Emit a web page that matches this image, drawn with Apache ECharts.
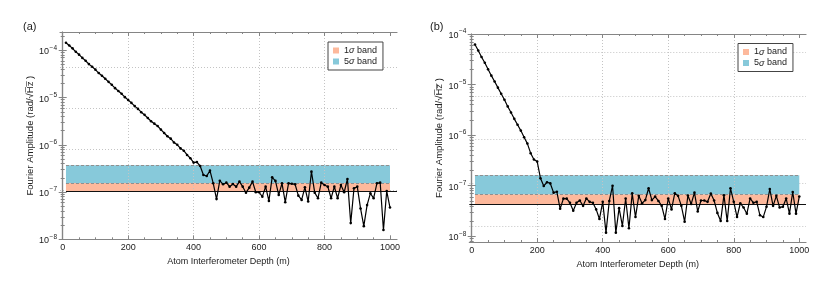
<!DOCTYPE html>
<html><head><meta charset="utf-8">
<script src="https://cdn.jsdelivr.net/npm/echarts@6/dist/echarts.min.js"></script>
<style>html,body{margin:0;padding:0;background:#fff}#c{width:831px;height:288px}</style>
</head><body><div id="c"></div>
<script>
// ---------------- data ----------------
const depth = [10,20,30,40,50,60,70,80,90,100,110,120,130,140,150,160,170,180,190,200,
  210,220,230,240,250,260,270,280,290,300,310,320,330,340,350,360,370,380,390,400,
  410,420,430,440,450,460,470,480,490,500,510,520,530,540,550,560,570,580,590,600,
  610,620,630,640,650,660,670,680,690,700,710,720,730,740,750,760,770,780,790,800,
  810,820,830,840,850,860,870,880,890,900,910,920,930,940,950,960,970,980,990,1000];
const ampA = [1.45e-4,1.26e-4,1.10e-4,9.3e-5,8.1e-5,6.9e-5,6.0e-5,5.1e-5,4.5e-5,3.9e-5,
  3.3e-5,2.9e-5,2.5e-5,2.15e-5,1.86e-5,1.58e-5,1.38e-5,1.20e-5,1.02e-5,8.9e-6,
  7.7e-6,6.6e-6,5.75e-6,4.9e-6,4.3e-6,3.7e-6,3.15e-6,2.8e-6,2.5e-6,2.1e-6,
  1.78e-6,1.52e-6,1.35e-6,1.12e-6,1.0e-6,8.4e-7,7.5e-7,6.1e-7,5.2e-7,4.2e-7,
  4.3e-7,3.56e-7,2.30e-7,2.19e-7,2.84e-7,1.53e-7,7.1e-8,1.74e-7,1.46e-7,1.58e-7,
  1.30e-7,1.48e-7,1.30e-7,1.66e-7,1.30e-7,9.7e-8,1.24e-7,1.66e-7,9.9e-8,9.9e-8,
  8.0e-8,1.30e-7,6.5e-8,2.05e-7,1.72e-7,8.7e-8,1.53e-7,6.1e-8,1.53e-7,1.50e-7,
  1.46e-7,8.4e-8,6.8e-8,1.26e-7,6.3e-8,2.70e-7,9.7e-8,7.4e-8,1.58e-7,1.41e-7,
  1.30e-7,7.4e-8,1.30e-7,7.4e-8,1.41e-7,9.9e-8,1.89e-7,2.2e-8,1.20e-7,1.30e-7,
  4.5e-8,1.9e-8,5.3e-8,9.4e-8,7.4e-8,1.53e-7,1.58e-7,1.57e-8,1.05e-7,4.7e-8];
const ampB = [6.2e-5,4.7e-5,3.5e-5,2.7e-5,2.0e-5,1.5e-5,1.15e-5,8.7e-6,6.6e-6,5.0e-6,
  3.7e-6,2.8e-6,2.1e-6,1.6e-6,1.23e-6,9.1e-7,6.8e-7,4.4e-7,3.3e-7,3.0e-7,
  1.40e-7,9.9e-8,1.17e-7,1.11e-7,7.3e-8,7.6e-8,3.5e-8,5.55e-8,5.55e-8,4.6e-8,
  3.2e-8,4.6e-8,5.1e-8,4.0e-8,5.6e-8,4.8e-8,4.6e-8,3.4e-8,2.2e-8,4.8e-8,
  1.18e-8,5.0e-8,1.0e-7,1.18e-8,3.6e-8,1.6e-8,5.6e-8,1.44e-8,7.1e-8,2.4e-8,
  6.3e-8,4.5e-8,5.2e-8,8.9e-8,5.2e-8,6.1e-8,5.0e-8,4.0e-8,2.2e-8,5.6e-8,
  3.4e-8,7.1e-8,6.3e-8,4.0e-8,1.94e-8,6.4e-8,4.35e-8,7.3e-8,3.1e-8,5.1e-8,
  5.1e-8,4.8e-8,7.0e-8,5.1e-8,2.9e-8,2.0e-8,6.5e-8,2.0e-8,8.9e-8,4.8e-8,
  2.4e-8,4.5e-8,3.7e-8,2.8e-8,5.6e-8,4.6e-8,4.8e-8,2.6e-8,2.4e-8,3.85e-8,
  8.6e-8,4.0e-8,6.3e-8,3.7e-8,3.85e-8,5.6e-8,2.8e-8,7.5e-8,2.8e-8,6.1e-8];
// band levels: [threshold, 1σ top, 5σ top]
const bandA = [1.05e-7, 1.56e-7, 3.68e-7];
const bandB = [4.35e-8, 6.76e-8, 1.61e-7];
const bandNames = ['1σ band', '5σ band'];
const xTicks = [0, 200, 400, 600, 800, 1000];
const yTicks = [1e-8, 1e-7, 1e-6, 1e-5, 1e-4];
const panelLabels = ['(a)', '(b)'];
const xTitle = 'Atom Interferometer Depth (m)';
const yTitle = 'Fourier Amplitude (rad/\u221AH\u0305z\u0305 )';

// ---------------- style / layout ----------------
const FONT = 'Liberation Sans, Arial, Helvetica, sans-serif';
const FRAME = '#858585';
const GRIDC = '#c4c4c4';
const TXT = '#222';
const C1 = '#fdb99c';
const C5 = '#87c9da';

const panels = [
  {left:60, top:32, width:337, height:207.3, xMin:-8.25, xMax:1021.4, yMin:1e-8, yMax:2.44e-4,
   gTop:67.3, gH:123, gN:3, amp:ampA, band:bandA, thrStart:10,
   legend:{left:328, top:42}, label:{left:23, top:21}, nameGapX:12, nameGapY:25},
  {left:469.3, top:34, width:336.7, height:208, xMin:-7.3, xMax:1020.5, yMin:7.71e-9, yMax:1e-4,
   gTop:52.3, gH:174, gN:4, amp:ampB, band:bandB, thrStart:-7.3,
   legend:{left:738, top:43.5}, label:{left:430, top:21}, nameGapX:12, nameGapY:25}
];

const xMinor = [];
for (let v = 50; v < 1000; v += 50) if (v % 200 !== 0) xMinor.push(v);
function yMinorFor(lo, hi) {
  const out = [];
  for (let e = -9; e <= -4; e++) for (let m = 2; m <= 9; m++) {
    const v = m * Math.pow(10, e);
    if (v >= lo && v <= hi) out.push(v);
  }
  return out;
}
function supLabel(v) {
  const e = Math.round(Math.log10(v));
  return '{b|10}{s|' + (e < 0 ? '\u2212' : '') + Math.abs(e) + '}';
}
const supRich = {
  b: {fontSize: 9, fontFamily: FONT, color: TXT, lineHeight: 12, verticalAlign: 'bottom'},
  s: {fontSize: 6.5, fontFamily: FONT, color: TXT, lineHeight: 12, verticalAlign: 'top', padding:[0,0,0,0.5]}
};

const grids = [], xAxes = [], yAxes = [], series = [], legends = [], titles = [];

panels.forEach((p, i) => {
  const g = grids.length;
  grids.push({left: p.left, top: p.top, width: p.width, height: p.height});
  const gh = grids.length;
  grids.push({left: p.left, top: p.gTop, width: p.width, height: p.gH});

  const lineFrame = {show: true, lineStyle: {color: FRAME, width: 1.2}};
  const noLabel = {show: false};
  const noSplit = {show: false};

  const xb = xAxes.length;
  xAxes.push({gridIndex: g, type: 'value', position: 'bottom', min: p.xMin, max: p.xMax, splitNumber: 5,
    axisLine: lineFrame,
    axisTick: {show: true, inside: true, length: 4, customValues: xTicks, lineStyle: {color: FRAME}},
    axisLabel: {customValues: xTicks, margin: 4, fontSize: 9, color: TXT, fontFamily: FONT, formatter: v => String(v)},
    splitLine: {show: true, showMinLine: false, showMaxLine: false, lineStyle: {color: GRIDC, type: [1, 2], width: 1}},
    name: xTitle, nameLocation: 'middle', nameGap: p.nameGapX,
    nameTextStyle: {fontSize: 9, color: TXT, fontFamily: FONT}, z: 3});
  xAxes.push({gridIndex: g, type: 'value', position: 'bottom', min: p.xMin, max: p.xMax,
    axisLine: {show: false}, axisTick: {show: true, inside: true, length: 2, customValues: xMinor, lineStyle: {color: FRAME}},
    axisLabel: noLabel, splitLine: noSplit, z: 3});
  xAxes.push({gridIndex: g, type: 'value', position: 'top', min: p.xMin, max: p.xMax,
    axisLine: lineFrame, axisTick: {show: true, inside: true, length: 4, customValues: xTicks, lineStyle: {color: FRAME}},
    axisLabel: noLabel, splitLine: noSplit, z: 3});
  xAxes.push({gridIndex: g, type: 'value', position: 'top', min: p.xMin, max: p.xMax,
    axisLine: {show: false}, axisTick: {show: true, inside: true, length: 2, customValues: xMinor, lineStyle: {color: FRAME}},
    axisLabel: noLabel, splitLine: noSplit, z: 3});
  const xh = xAxes.length;
  xAxes.push({gridIndex: gh, type: 'value', min: 0, max: 1, show: false});

  const yMinor = yMinorFor(p.yMin, p.yMax);
  const yl = yAxes.length;
  yAxes.push({gridIndex: g, type: 'log', logBase: 10, position: 'left', min: p.yMin, max: p.yMax,
    axisLine: lineFrame,
    axisTick: {show: true, inside: true, length: 4, customValues: yTicks, lineStyle: {color: FRAME}},
    axisLabel: {customValues: yTicks, margin: 3, formatter: supLabel, rich: supRich, fontSize: 9, color: TXT, fontFamily: FONT},
    splitLine: noSplit, minorTick: {show: false},
    name: yTitle, nameLocation: 'middle', nameGap: p.nameGapY, nameRotate: 90,
    nameTextStyle: {fontSize: 9.5, color: TXT, fontFamily: FONT}, z: 3});
  yAxes.push({gridIndex: g, type: 'log', logBase: 10, position: 'left', min: p.yMin, max: p.yMax,
    axisLine: {show: false}, axisTick: {show: true, inside: true, length: 2, customValues: yMinor, lineStyle: {color: FRAME}},
    axisLabel: noLabel, splitLine: noSplit, z: 3});
  yAxes.push({gridIndex: g, type: 'log', logBase: 10, position: 'right', min: p.yMin, max: p.yMax,
    axisLine: lineFrame, axisTick: {show: true, inside: true, length: 4, customValues: yTicks, lineStyle: {color: FRAME}},
    axisLabel: noLabel, splitLine: noSplit, z: 3});
  yAxes.push({gridIndex: g, type: 'log', logBase: 10, position: 'right', min: p.yMin, max: p.yMax,
    axisLine: {show: false}, axisTick: {show: true, inside: true, length: 2, customValues: yMinor, lineStyle: {color: FRAME}},
    axisLabel: noLabel, splitLine: noSplit, z: 3});
  const yh = yAxes.length;
  yAxes.push({gridIndex: gh, type: 'value', min: 0, max: p.gN, interval: 1,
    axisLine: {show: false}, axisTick: {show: false}, axisLabel: noLabel,
    splitLine: {show: true, showMinLine: true, showMaxLine: true, lineStyle: {color: GRIDC, type: [1, 2], width: 1}}, z: 0});
  series.push({type: 'line', xAxisIndex: xh, yAxisIndex: yh, data: [], silent: true});

  const b = p.band;
  const dashed = {color: '#8f8f8f', type: [3, 2], width: 1};
  series.push({name: bandNames[0], type: 'line', xAxisIndex: xb, yAxisIndex: yl, data: [],
    itemStyle: {color: C1}, lineStyle: {color: C1}, z: 2,
    markArea: {silent: true, itemStyle: {color: C1}, data: [[{coord: [10, b[0]]}, {coord: [1000, b[1]]}]]},
    markLine: {silent: true, symbol: 'none', label: {show: false}, lineStyle: dashed,
      data: [[{coord: [10, b[1]]}, {coord: [1000, b[1]]}]]}});
  series.push({name: bandNames[1], type: 'line', xAxisIndex: xb, yAxisIndex: yl, data: [],
    itemStyle: {color: C5}, lineStyle: {color: C5}, z: 2,
    markArea: {silent: true, itemStyle: {color: C5}, data: [[{coord: [10, b[1]]}, {coord: [1000, b[2]]}]]},
    markLine: {silent: true, symbol: 'none', label: {show: false}, lineStyle: dashed,
      data: [[{coord: [10, b[2]]}, {coord: [1000, b[2]]}]]}});
  series.push({type: 'line', xAxisIndex: xb, yAxisIndex: yl,
    data: depth.map((d, k) => [d, p.amp[k]]),
    symbol: 'circle', symbolSize: 2.6, showSymbol: true,
    lineStyle: {color: '#000', width: 1.2}, itemStyle: {color: '#000'}, z: 6,
    markLine: {silent: true, symbol: 'none', label: {show: false}, lineStyle: {color: '#111', type: 'solid', width: 1.1},
      data: [[{coord: [p.thrStart, b[0]]}, {coord: [p.xMax, b[0]]}]]}});

  legends.push({left: p.legend.left, top: p.legend.top, orient: 'vertical', data: bandNames,
    icon: 'rect', itemWidth: 6, itemHeight: 6, itemGap: 2,
    borderColor: '#444', borderWidth: 1, backgroundColor: '#fff', borderRadius: 0,
    padding: [4, 6, 4, 5],
    formatter: n => n.replace('σ', '{i|σ}'),
    textStyle: {fontSize: 9, color: TXT, fontFamily: FONT, padding: [0, 0, 0, 0],
      rich: {i: {fontSize: 9, fontStyle: 'italic', fontFamily: FONT, color: TXT}}},
    selectedMode: false, z: 10});
  titles.push({text: panelLabels[i], left: p.label.left, top: p.label.top, padding: 0,
    textStyle: {fontSize: 11, fontWeight: 'normal', color: TXT, fontFamily: FONT}});
});

const chart = echarts.init(document.getElementById('c'), null, {renderer: 'canvas'});
chart.setOption({
  animation: false,
  backgroundColor: '#fff',
  title: titles,
  legend: legends,
  grid: grids,
  xAxis: xAxes,
  yAxis: yAxes,
  series: series
});
</script>
</body></html>
